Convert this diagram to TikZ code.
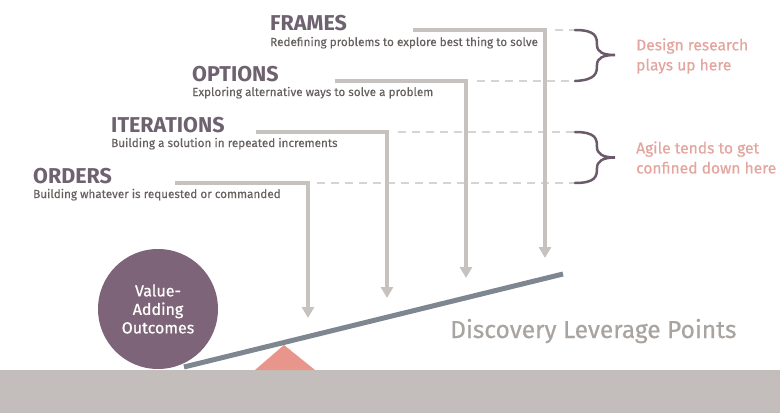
\documentclass[tikz,border=0pt]{standalone}
\usepackage{fontspec}
\setmainfont{Fira Sans}
\newfontfamily\medfont[FakeBold=0.6]{Fira Sans}
\newfontfamily\subfont[FakeBold=0.25]{Fira Sans}
\usetikzlibrary{arrows.meta}
\definecolor{ttl}{HTML}{6F6270}
\definecolor{sub}{HTML}{66605F}
\definecolor{conn}{HTML}{C6C2C0}
\definecolor{dsh}{HTML}{D8D4D3}
\definecolor{brc}{HTML}{6B5A6A}
\definecolor{salm}{HTML}{E3A59E}
\definecolor{circ}{HTML}{7E6478}
\definecolor{fulc}{HTML}{E8968B}
\definecolor{beam}{HTML}{7E8790}
\definecolor{grnd}{HTML}{C3BEBB}
\definecolor{disc}{HTML}{A9A4A0}
\tikzset{
  title/.style={anchor=base west, inner sep=0pt, text=ttl, font=\bfseries\fontsize{21.5}{24}\selectfont},
  subt/.style={anchor=base west, inner sep=0pt, text=sub, font=\subfont\fontsize{11.7}{14}\selectfont},
  connector/.style={draw=conn, line width=4pt, -{Triangle[width=12pt,length=11pt]}},
  guide/.style={draw=dsh, line width=1.5pt, dash pattern=on 8pt off 6pt},
  bracestyle/.style={draw=brc, line width=2.5pt, line cap=round},
  note/.style={anchor=west, inner sep=0pt, text=salm, align=left, font=\medfont\fontsize{15.6}{20}\selectfont},
}
\begin{document}
\begin{tikzpicture}[x=1pt,y=-1pt]
\useasboundingbox (0,0) rectangle (780,413);
% ground
\fill[grnd] (0,370) rectangle (780,413);
% fulcrum
\fill[fulc] (255,370) -- (284,345) -- (315,370) -- cycle;
% circle
\node[circle, fill=circ, minimum size=120pt, inner sep=0pt, text=white, align=center,
  font=\medfont\fontsize{16}{18.5}\selectfont] (outc) at (158,309) {Value-\\Adding\\Outcomes};
% beam
\coordinate (bl) at (184,367);
\coordinate (br) at (563,274);
\draw[beam, line width=5pt] (bl) -- (br);
% titles
\node[title] (frames) at (270,30) {FRAMES};
\node[subt] (framesd) at (270,46) {Redefining problems to explore best thing to solve};
\node[title] (options) at (192,81) {OPTIONS};
\node[subt] (optionsd) at (192,96) {Exploring alternative ways to solve a problem};
\node[title] (iter) at (111,132) {ITERATIONS};
\node[subt] (iterd) at (111,147) {Building a solution in repeated increments};
\node[title] (orders) at (33,183) {ORDERS};
\node[subt] (ordersd) at (33,198) {Building whatever is requested or commanded};
% guides
\coordinate (g1s) at (555,30);  \coordinate (g1e) at (575,30);
\coordinate (g2s) at (477,81);  \coordinate (g2e) at (575,81);
\coordinate (g3s) at (398,132); \coordinate (g3e) at (575,132);
\coordinate (g4s) at (317,183); \coordinate (g4e) at (575,183);
\draw[guide] (g1s) -- (g1e);
\draw[guide] (g2s) -- (g2e);
\draw[guide] (g3s) -- (g3e);
\draw[guide] (g4s) -- (g4e);
% connectors
\coordinate (c1s) at (413,30);  \coordinate (c1e) at (545,258);
\coordinate (c2s) at (335,81);  \coordinate (c2e) at (466,278);
\coordinate (c3s) at (256,132); \coordinate (c3e) at (387,298);
\coordinate (c4s) at (175,183); \coordinate (c4e) at (308,318);
\draw[connector] (c1s) -| (c1e);
\draw[connector] (c2s) -| (c2e);
\draw[connector] (c3s) -| (c3e);
\draw[connector] (c4s) -| (c4e);
% braces
\draw[bracestyle] (g1e) .. controls (596,30) and (597,37) .. (597,45)
  .. controls (597,52) and (603,55) .. (615,55)
  .. controls (603,55) and (597,58) .. (597,65)
  .. controls (597,73) and (596,80) .. (g2e);
\draw[bracestyle] (g3e) .. controls (596,132) and (597,139) .. (597,147)
  .. controls (597,154) and (603,157.5) .. (615,157.5)
  .. controls (603,157.5) and (597,161) .. (597,168)
  .. controls (597,176) and (596,183) .. (g4e);
% notes
\node[note] (n1) at (636,56) {Design research\\plays up here};
\node[note] (n2) at (636,157.5) {Agile tends to get\\confined down here};
% label
\node[anchor=base west, inner sep=0pt, text=disc, font=\medfont\fontsize{24.5}{27}\selectfont] (dlp) at (450,338) {Discovery Leverage Points};
\end{tikzpicture}
\end{document}
